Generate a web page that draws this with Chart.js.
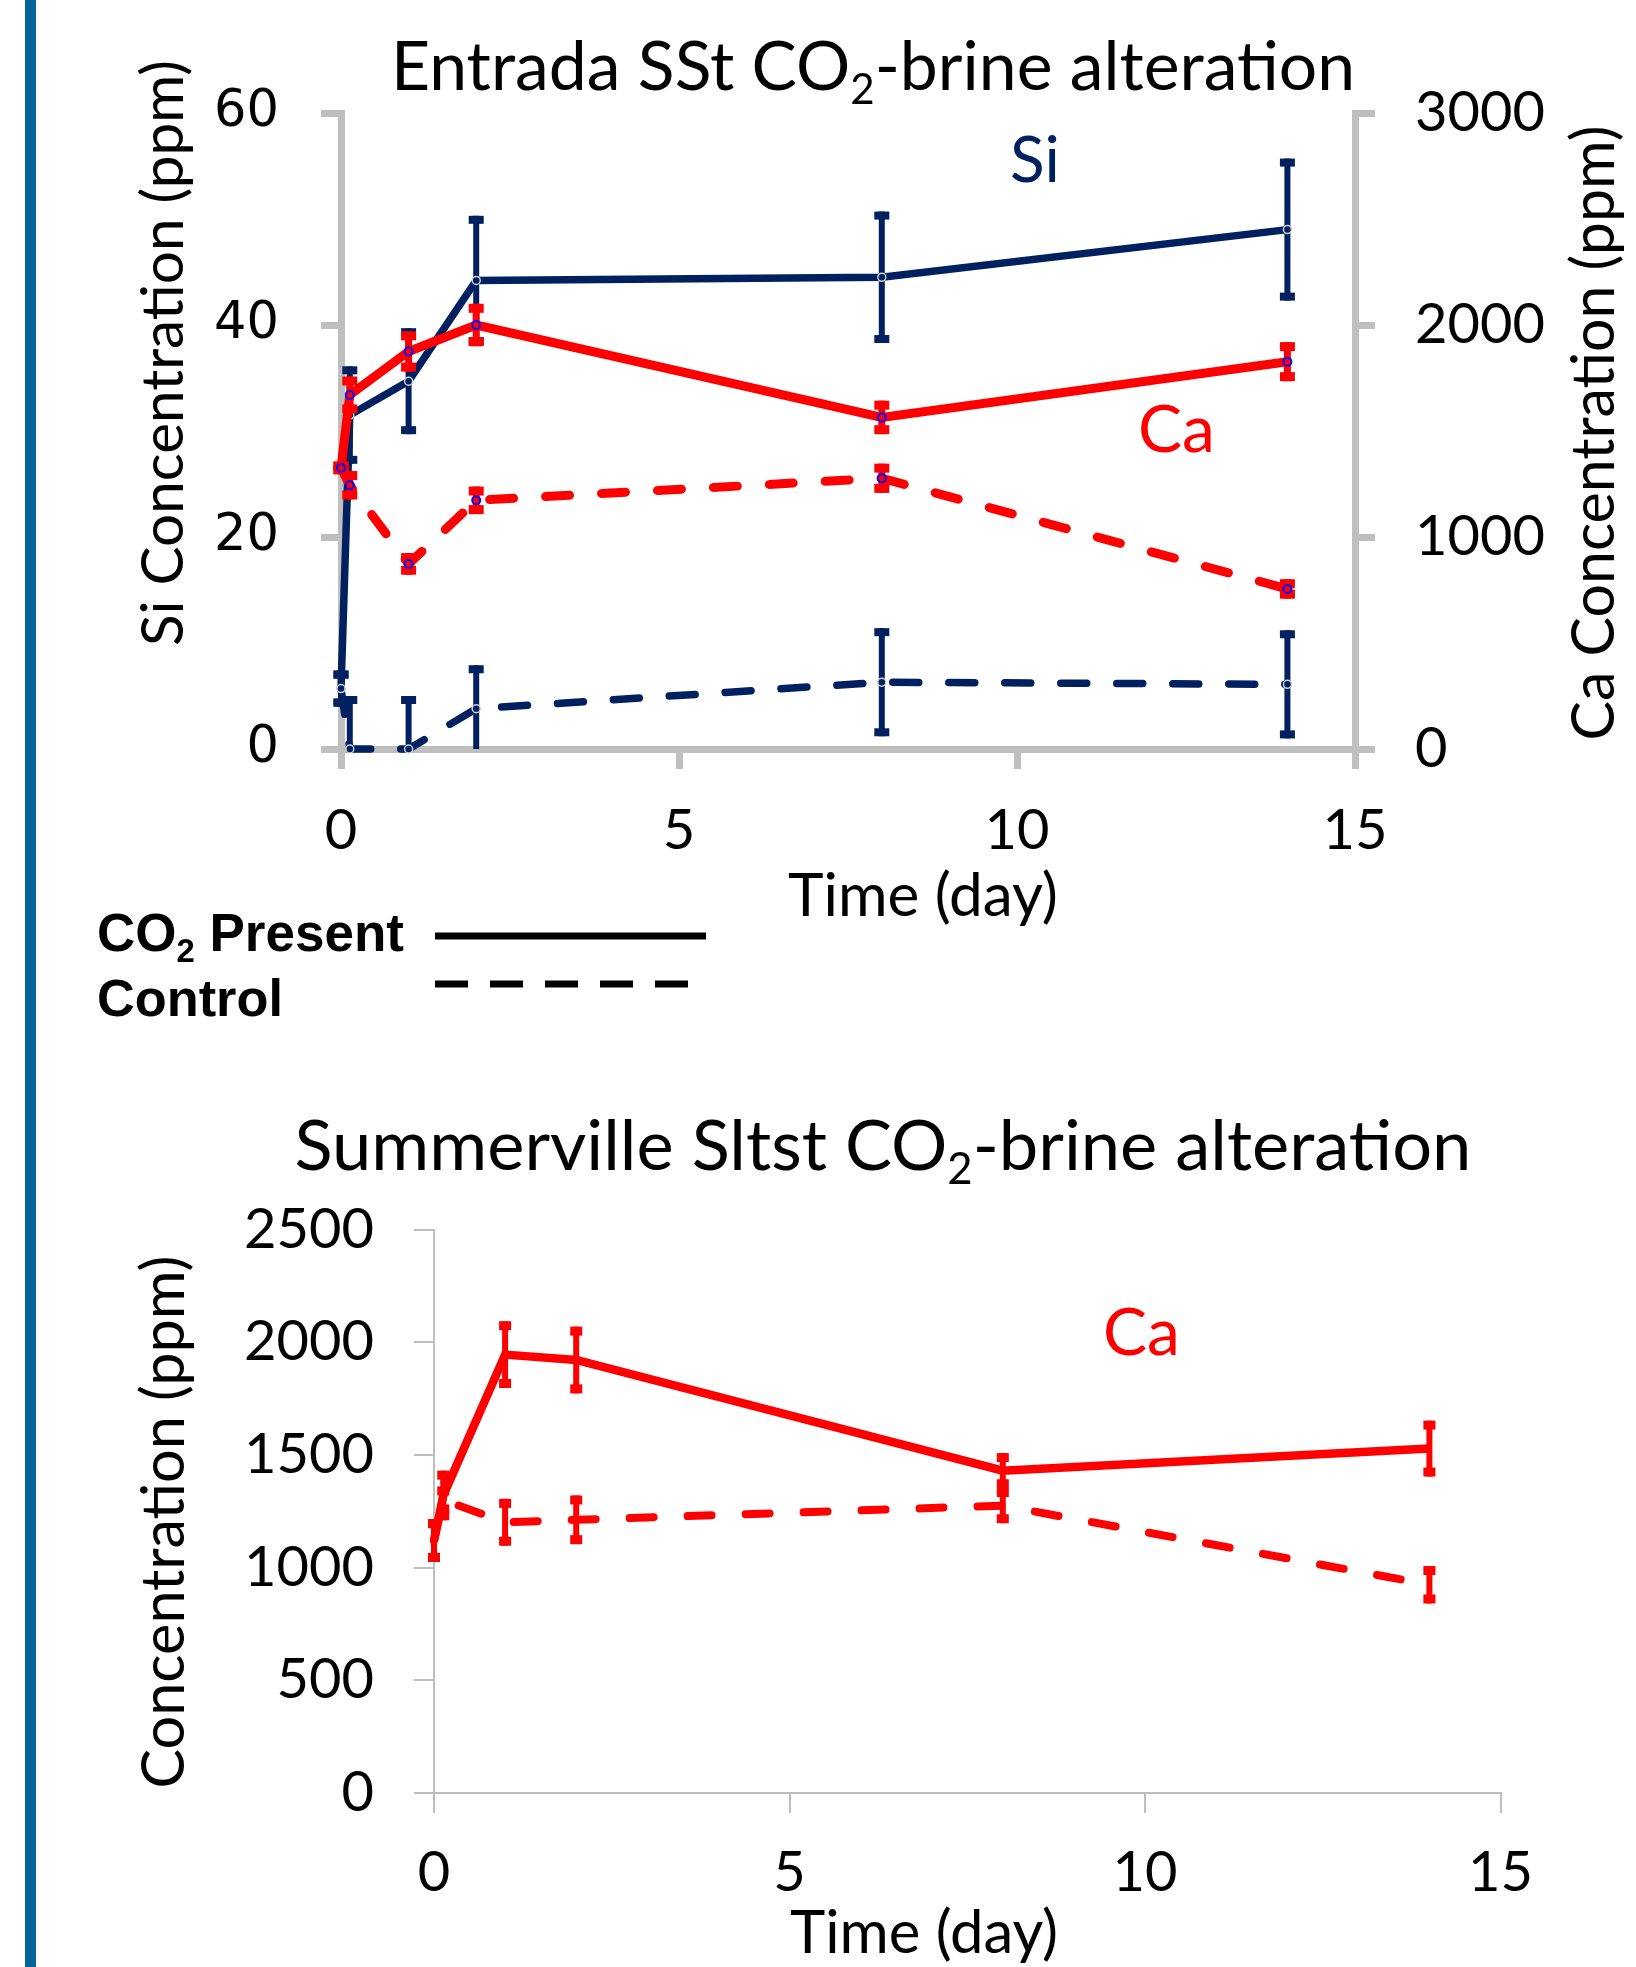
<!DOCTYPE html>
<html>
<head>
<meta charset="utf-8">
<title>CO2-brine alteration</title>
<script src="https://cdn.jsdelivr.net/npm/chart.js@4.4.1/dist/chart.umd.min.js"></script>
<style>
  html, body { margin: 0; padding: 0; background: #fff; }
  #page { position: relative; width: 1636px; height: 1967px; overflow: hidden; }
  .side-bar { position: absolute; left: 25px; top: 0; width: 11px; height: 1967px; background: #04659b; }
  canvas { position: absolute; left: 0; }
  #entrada { top: 0; }
  #summerville { top: 1100px; }
</style>
</head>
<body>
<div id="page">
  <div class="side-bar"></div>
  <canvas id="entrada" width="1636" height="1100"></canvas>
  <canvas id="summerville" width="1636" height="867"></canvas>
</div>
<script>
// sampling times (day)
const days = [0, 0.13, 1, 2, 8, 14];

// Entrada SSt - Si (ppm, left axis)
const siCo2 = [5.7, 31.5, 34.7, 44.2, 44.5, 49.0];
const siCo2Err = [1.7, 4.6, 5.0, 6.1, 6.2, 6.7];
const siControl = [5.7, 0, 0, 3.8, 6.3, 6.1];
const siControlErr = [1.7, 5.0, 5.0, 4.1, 5.1, 5.1];

// Entrada SSt - Ca (ppm, right axis)
const caCo2 = [1326, 1670, 1875, 2000, 1564, 1827];
const caCo2Err = [30, 87, 95, 100, 79, 92];
const caControl = [1326, 1244, 873, 1173, 1277, 755];
const caControlErr = [30, 67, 51, 65, 69, 46];

// Summerville Sltst - Ca (ppm)
const sumCaCo2 = [1120, 1320, 1945, 1921, 1430, 1528];
const sumCaCo2Err = [95, 110, 148, 148, 78, 124];
const sumCaControl = [1120, 1300, 1201, 1212, 1275, 924];
const sumCaControlErr = [95, 60, 104, 108, 78, 83];

// tick labels
const dayTicks = [0, 5, 10, 15];
const siTicks = [0, 20, 40, 60];
const caTicks = [0, 1000, 2000, 3000];
const sumTicks = [0, 500, 1000, 1500, 2000, 2500];

const navy = '#002060';
const red = '#ff0000';
const gray = '#bfbfbf';
const calibriLike = 'Lato, sans-serif';
const narrowBold = "'Liberation Sans Narrow', 'Liberation Sans', Arial, sans-serif";

Chart.defaults.font.family = calibriLike;
Chart.defaults.color = '#000';

// free text and legend strokes, page coordinates
const pageText = {
    entrada: {
        offsetY: 0,
        items: [
            { parts: [['Entrada SSt CO', 1], ['2', 0.62, 0.2], ['-brine alteration', 1]], x: 873, y: 90, size: 62, width: 964 },
            { text: 'Si Concentration (ppm)', x: 164, y: 353, size: 56, width: 586, rotate: -90, baseline: 'middle' },
            { text: 'Ca Concentration (ppm)', x: 1595, y: 433, size: 56, width: 615, rotate: -90, baseline: 'middle' },
            { text: 'Time (day)', x: 923, y: 916, size: 56, width: 270 },
            { text: 'Si', x: 1010, y: 182, size: 64, color: navy, align: 'left' },
            { text: 'Ca', x: 1138, y: 452, size: 66, color: red, align: 'left' },
            { parts: [['CO', 1], ['2', 0.62, 0.2], [' Present', 1]], x: 97, y: 951, size: 46, width: 307, align: 'left', weight: 'bold', family: narrowBold },
            { text: 'Control', x: 97, y: 1016, size: 46, width: 186, align: 'left', weight: 'bold', family: narrowBold }
        ],
        strokes: [
            { x1: 435, x2: 706, y: 936, w: 7 },
            { x1: 435, x2: 690, y: 984, w: 7, dash: [33, 22] }
        ]
    },
    summerville: {
        offsetY: 1100,
        items: [
            { parts: [['Summerville Sltst CO', 1], ['2', 0.62, 0.2], ['-brine alteration', 1]], x: 883, y: 1170, size: 62, width: 1177 },
            { text: 'Concentration (ppm)', x: 165, y: 1522, size: 56, width: 533, rotate: -90, baseline: 'middle' },
            { text: 'Time (day)', x: 924, y: 1953, size: 56, width: 268 },
            { text: 'Ca', x: 1103, y: 1355, size: 66, color: red, align: 'left' }
        ],
        strokes: []
    }
};

function drawItem(ctx, it, offY) {
    const parts = it.parts || [[it.text, 1, 0]];
    const fam = it.family || calibriLike;
    const weight = it.weight || 'normal';
    const measure = s => parts.reduce((w, p) => {
        ctx.font = `${weight} ${s * p[1]}px ${fam}`;
        return w + ctx.measureText(p[0]).width;
    }, 0);
    let size = it.size;
    if (it.width) size = size * it.width / measure(size);
    const total = measure(size);
    ctx.save();
    ctx.translate(it.x, it.y - offY);
    if (it.rotate) ctx.rotate(it.rotate * Math.PI / 180);
    ctx.fillStyle = it.color || '#000';
    ctx.textBaseline = it.baseline || 'alphabetic';
    ctx.textAlign = 'left';
    let x = it.align === 'left' ? 0 : -total / 2;
    parts.forEach(p => {
        ctx.font = `${weight} ${size * p[1]}px ${fam}`;
        ctx.fillText(p[0], x, (p[2] || 0) * size);
        x += ctx.measureText(p[0]).width;
    });
    ctx.restore();
}

const textPlugin = {
    id: 'pageText',
    afterDraw(chart) {
        const cfg = pageText[chart.canvas.id];
        if (!cfg) return;
        const ctx = chart.ctx;
        cfg.items.forEach(it => drawItem(ctx, it, cfg.offsetY));
        cfg.strokes.forEach(s => {
            ctx.save();
            ctx.strokeStyle = '#000';
            ctx.lineWidth = s.w;
            ctx.setLineDash(s.dash || []);
            ctx.beginPath();
            ctx.moveTo(s.x1, s.y - cfg.offsetY);
            ctx.lineTo(s.x2, s.y - cfg.offsetY);
            ctx.stroke();
            ctx.restore();
        });
    }
};

// vertical error bars with flat caps, drawn under each dataset's line
const errorBarPlugin = {
    id: 'errorBars',
    beforeDatasetDraw(chart, args) {
        const ds = chart.data.datasets[args.index];
        if (!ds.errors) return;
        const yScale = args.meta.yScale;
        const st = ds.errorStyle;
        const ctx = chart.ctx;
        ctx.save();
        ctx.strokeStyle = ds.borderColor;
        ctx.fillStyle = ds.borderColor;
        ctx.lineWidth = st.line;
        args.meta.data.forEach((pt, i) => {
            const e = ds.errors[i];
            if (!e) return;
            const v = ds.data[i].y;
            const yTop = yScale.getPixelForValue(v + e);
            const yBot = yScale.getPixelForValue(Math.max(v - e, yScale.min));
            ctx.beginPath();
            ctx.moveTo(pt.x, yTop);
            ctx.lineTo(pt.x, yBot);
            ctx.stroke();
            ctx.fillRect(pt.x - st.cap / 2, yTop, st.cap, st.capH);
            if (v - e >= yScale.min) ctx.fillRect(pt.x - st.cap / 2, yBot - st.capH, st.cap, st.capH);
        });
        ctx.restore();
    }
};

function points(ys) {
    return days.map((d, i) => ({ x: d, y: ys[i] }));
}

function series(label, ys, errs, opts) {
    return Object.assign({
        label: label,
        data: points(ys),
        errors: errs,
        showLine: true,
        tension: 0,
        clip: false,
        fill: false
    }, opts);
}

function tickList(values) {
    return scale => { scale.ticks = values.map(v => ({ value: v })); };
}

function axis(lineW, extra) {
    return Object.assign({
        type: 'linear',
        border: { display: true, color: gray, width: lineW },
        grid: { drawOnChartArea: false, drawTicks: true, color: gray, lineWidth: lineW, tickLength: 20 }
    }, extra);
}

const navyMarker = { pointRadius: 4, pointBackgroundColor: navy, pointBorderColor: '#d0d0d0', pointBorderWidth: 1.5 };
const redMarker = { pointRadius: 4, pointBackgroundColor: red, pointBorderColor: '#0000ff', pointBorderWidth: 2 };
const navyBars = { line: 6, cap: 15, capH: 8 };
const redBars = { line: 7, cap: 15, capH: 9 };

new Chart(document.getElementById('entrada'), {
    type: 'line',
    data: {
        datasets: [
            series('Ca CO2 present', caCo2, caCo2Err, Object.assign({ yAxisID: 'y1', borderColor: red, borderWidth: 9, errorStyle: redBars }, redMarker)),
            series('Ca control', caControl, caControlErr, Object.assign({ yAxisID: 'y1', borderColor: red, borderWidth: 9, borderDash: [24, 32], borderCapStyle: 'round', errorStyle: redBars }, redMarker)),
            series('Si CO2 present', siCo2, siCo2Err, Object.assign({ yAxisID: 'y', borderColor: navy, borderWidth: 7.5, errorStyle: navyBars }, navyMarker)),
            series('Si control', siControl, siControlErr, Object.assign({ yAxisID: 'y', borderColor: navy, borderWidth: 7.5, borderDash: [26, 30], borderCapStyle: 'round', errorStyle: navyBars }, navyMarker))
        ]
    },
    options: {
        responsive: false,
        animation: false,
        events: [],
        layout: { padding: { top: 113, left: 0, right: 0, bottom: 0 } },
        plugins: { legend: { display: false }, tooltip: { enabled: false }, title: { display: false } },
        scales: {
            x: axis(7, {
                position: 'bottom', min: dayTicks[0], max: dayTicks[dayTicks.length - 1],
                afterBuildTicks: tickList(dayTicks),
                afterFit: s => { s.height = 351; },
                ticks: { font: { size: 56 }, padding: 28, callback: v => String(v), maxRotation: 0 }
            }),
            y: axis(7, {
                position: 'left', min: siTicks[0], max: siTicks[siTicks.length - 1],
                afterBuildTicks: tickList(siTicks),
                afterFit: s => { s.width = 341; },
                ticks: { font: { family: "'DejaVu Sans', sans-serif", size: 51 }, padding: 42, callback: v => String(v) }
            }),
            y1: axis(7, {
                position: 'right', min: caTicks[0], max: caTicks[caTicks.length - 1],
                afterBuildTicks: tickList(caTicks),
                afterFit: s => { s.width = 281; },
                ticks: { font: { size: 56 }, padding: 40, callback: v => String(v) }
            })
        }
    },
    plugins: [errorBarPlugin, textPlugin]
});

new Chart(document.getElementById('summerville'), {
    type: 'line',
    data: {
        datasets: [
            series('Ca CO2 present', sumCaCo2, sumCaCo2Err, { borderColor: red, borderWidth: 8.5, pointRadius: 0, errorStyle: { line: 6, cap: 12, capH: 9 } }),
            series('Ca control', sumCaControl, sumCaControlErr, { borderColor: red, borderWidth: 8, borderDash: [24, 34], borderCapStyle: 'round', pointRadius: 0, errorStyle: { line: 6, cap: 12, capH: 9 } })
        ]
    },
    options: {
        responsive: false,
        animation: false,
        events: [],
        layout: { padding: { top: 129.5, left: 0, right: 135.5, bottom: 0 } },
        plugins: { legend: { display: false }, tooltip: { enabled: false }, title: { display: false } },
        scales: {
            x: axis(2, {
                position: 'bottom', min: dayTicks[0], max: dayTicks[dayTicks.length - 1],
                afterBuildTicks: tickList(dayTicks),
                afterFit: s => { s.height = 174; },
                ticks: { font: { size: 56 }, padding: 26, callback: v => String(v), maxRotation: 0 }
            }),
            y: axis(2, {
                position: 'left', min: sumTicks[0], max: sumTicks[sumTicks.length - 1],
                afterBuildTicks: tickList(sumTicks),
                afterFit: s => { s.width = 434; },
                ticks: { font: { size: 56 }, padding: 40, callback: v => String(v) }
            })
        }
    },
    plugins: [errorBarPlugin, textPlugin]
});
</script>
</body>
</html>
